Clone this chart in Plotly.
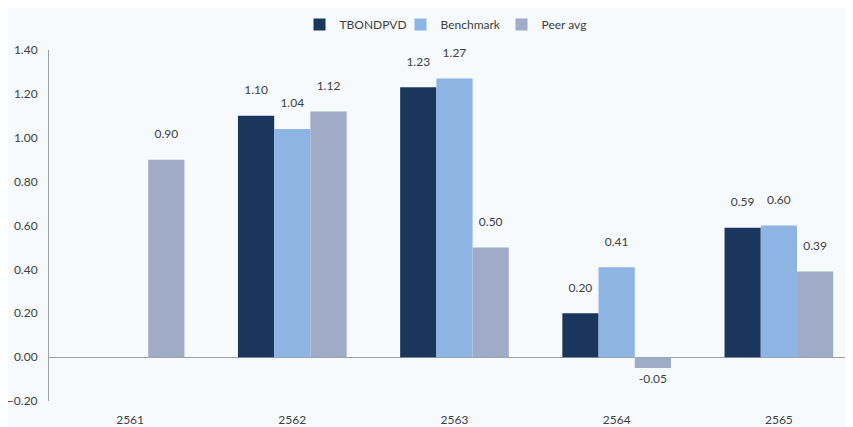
import plotly.graph_objects as go

years = ["2561", "2562", "2563", "2564", "2565"]
tbond = [None, 1.10, 1.23, 0.20, 0.59]
benchmark = [None, 1.04, 1.27, 0.41, 0.60]
peer = [0.90, 1.12, 0.50, -0.05, 0.39]
y_ticks = [-0.2, 0.0, 0.2, 0.4, 0.6, 0.8, 1.0, 1.2, 1.4]

series = [("TBONDPVD", tbond, "#1b365d"),
          ("Benchmark", benchmark, "#8eb4e3"),
          ("Peer avg", peer, "#a0abc8")]

def labels(vals):
    out = []
    for v in vals:
        if v is None:
            out.append("")
        elif v < 0:
            out.append(f"{v:.2f}")
        else:
            out.append(f"{v:.2f}" + "<br> ")
    return out

FONT = "Lato, sans-serif"
TXT = "#404040"

fig = go.Figure()
for name, vals, color in series:
    fig.add_trace(go.Bar(
        x=years, y=vals, name=name, marker=dict(color=color, line=dict(width=0)),
        text=labels(vals), textposition="outside", cliponaxis=False,
        textfont=dict(size=12, color=TXT),
    ))

fig.update_layout(
    width=845, height=419,
    paper_bgcolor="#f7fafd", plot_bgcolor="#f7fafd",
    font=dict(family=FONT, size=12, color=TXT),
    margin=dict(l=41, r=0, t=42, b=26, autoexpand=False),
    barmode="group", bargap=0.33, bargroupgap=0.0,
    legend=dict(orientation="h", x=0.5, xanchor="center", y=0.995, yanchor="top",
                yref="container", font=dict(size=12, color=TXT),
                bgcolor="rgba(0,0,0,0)", traceorder="normal",
                itemwidth=30, entrywidth=56),
    showlegend=True,
)
fig.update_xaxes(range=[-0.5, 4.457], showgrid=False, showline=False, ticks="",
                 automargin=False,
                 ticklabelstandoff=10, tickfont=dict(size=12, color=TXT))
fig.update_yaxes(range=[-0.2, 1.4], tickvals=y_ticks, tickformat=".2f", showgrid=False,
                 automargin=False,
                 showline=True, linecolor="#a0a0a0", linewidth=1, ticks="",
                 zeroline=True, zerolinecolor="#a0a0a0", zerolinewidth=1,
                 ticklabelstandoff=8, tickfont=dict(size=12, color=TXT))

fig.write_html("out.html")
